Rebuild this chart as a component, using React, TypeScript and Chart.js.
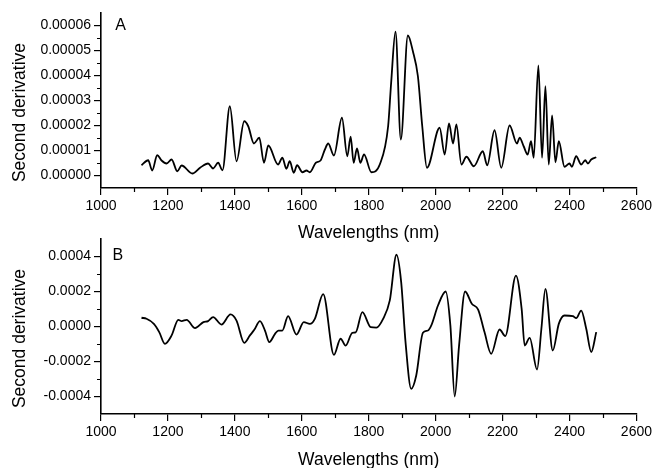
import React, { useEffect, useRef } from 'react';
import { Chart, registerables } from 'chart.js';

Chart.register(...registerables);

const FONT = '"Liberation Sans", Arial, Helvetica, sans-serif';

// Panel A: second derivative spectrum
const wavelengthsA = [
  1121, 1141, 1153, 1168, 1181, 1196, 1211, 1228, 1241, 1273, 1296, 1320, 1335, 1350, 1363,
  1385, 1405, 1428, 1440, 1457, 1473, 1487, 1500, 1529, 1542, 1554, 1564, 1576, 1586, 1602,
  1614, 1624, 1642, 1656, 1669, 1679, 1696, 1720, 1736, 1746, 1755, 1765, 1775, 1786, 1808,
  1833, 1858, 1867, 1880, 1896, 1917, 1932, 1947, 1960, 1974, 2012, 2027, 2040, 2052, 2062,
  2077, 2092, 2114, 2141, 2154, 2176, 2196, 2221, 2243, 2251, 2263, 2275, 2285, 2293, 2307,
  2318, 2328, 2338, 2348, 2358, 2368, 2385, 2400, 2407, 2420, 2435, 2447, 2455, 2465, 2480,
];
const valuesA = [
  0.41e-5, 0.61e-5, 0.2e-5, 0.81e-5, 0.6e-5, 0.48e-5, 0.64e-5, 0.17e-5, 0.4e-5, 0.08e-5, 0.31e-5, 0.48e-5, 0.28e-5, 0.51e-5, 0.21e-5,
  2.77e-5, 0.57e-5, 2.17e-5, 1.97e-5, 1.28e-5, 1.51e-5, 0.51e-5, 1.2e-5, 0.44e-5, 0.71e-5, 0.27e-5, 0.57e-5, 0.11e-5, 0.41e-5, 0.13e-5,
  0.2e-5, 0.13e-5, 0.51e-5, 0.6e-5, 1.04e-5, 1.28e-5, 0.8e-5, 2.31e-5, 0.77e-5, 1.55e-5, 0.51e-5, 1.08e-5, 0.51e-5, 0.84e-5, 0.13e-5,
  0.44e-5, 1.97e-5, 3.7e-5, 5.75e-5, 1.44e-5, 5.6e-5, 4.97e-5, 3.97e-5, 1.97e-5, 0.31e-5, 1.91e-5, 0.84e-5, 2.08e-5, 1.28e-5, 2.04e-5,
  0.44e-5, 0.75e-5, 0.37e-5, 0.97e-5, 0.41e-5, 1.81e-5, 0.31e-5, 2.0e-5, 1.28e-5, 1.51e-5, 1.17e-5, 0.84e-5, 1.37e-5, 0.71e-5, 4.4e-5,
  0.71e-5, 3.57e-5, 0.44e-5, 2.4e-5, 0.53e-5, 1.37e-5, 0.35e-5, 0.48e-5, 0.35e-5, 0.77e-5, 0.44e-5, 0.61e-5, 0.48e-5, 0.64e-5, 0.73e-5,
];

// Panel B
const wavelengthsB = [
  1121, 1136, 1158, 1174, 1191, 1211, 1231, 1241, 1256, 1281, 1306, 1320, 1335, 1360, 1387,
  1405, 1428, 1445, 1458, 1475, 1490, 1503, 1520, 1530, 1542, 1559, 1584, 1606, 1624, 1639,
  1664, 1696, 1716, 1731, 1751, 1761, 1781, 1806, 1823, 1843, 1863, 1883, 1897, 1910, 1927,
  1942, 1962, 1977, 1987, 2007, 2030, 2044, 2057, 2070, 2088, 2108, 2127, 2146, 2166, 2191,
  2208, 2240, 2257, 2266, 2281, 2303, 2316, 2328, 2350, 2368, 2385, 2410, 2420, 2435, 2450,
  2465, 2480,
];
const valuesB = [
  0.5e-4, 0.44e-4, 0.15e-4, -0.32e-4, -0.99e-4, -0.51e-4, 0.38e-4, 0.31e-4, 0.38e-4, -0.09e-4, 0.25e-4, 0.31e-4, 0.54e-4, 0.11e-4, 0.69e-4,
  0.34e-4, -0.93e-4, -0.51e-4, -0.19e-4, 0.31e-4, -0.23e-4, -0.89e-4, -0.42e-4, -0.23e-4, -0.23e-4, 0.59e-4, -0.46e-4, 0.25e-4, 0.15e-4, 0.44e-4,
  1.85e-4, -1.62e-4, -0.7e-4, -1.09e-4, -0.36e-4, -0.34e-4, 0.82e-4, -0.04e-4, -0.06e-4, 0.44e-4, 1.49e-4, 4.1e-4, 2.54e-4, -0.89e-4, -3.56e-4,
  -2.8e-4, -0.36e-4, -0.23e-4, 0.06e-4, 1.2e-4, 2.0e-4, 0.06e-4, -4.0e-4, -1.09e-4, 2.0e-4, 1.3e-4, 0.97e-4, -0.32e-4, -1.56e-4, -0.17e-4,
  -0.55e-4, 2.91e-4, 1.01e-4, -1.09e-4, -0.65e-4, -2.46e-4, -0.13e-4, 2.15e-4, -1.37e-4, 0.15e-4, 0.63e-4, 0.59e-4, 0.48e-4, 0.91e-4, -0.13e-4,
  -1.46e-4, -0.32e-4,
];

const xTicks = [1000, 1200, 1400, 1600, 1800, 2000, 2200, 2400, 2600];
const xMinorTicks = [1100, 1300, 1500, 1700, 1900, 2100, 2300, 2500];
const yTicksA = [0, 0.00001, 0.00002, 0.00003, 0.00004, 0.00005, 0.00006];
const yMinorTicksA = [0.000005, 0.000015, 0.000025, 0.000035, 0.000045, 0.000055];
const yTicksB = [-0.0004, -0.0002, 0, 0.0002, 0.0004];
const yMinorTicksB = [-0.0003, -0.0001, 0.0001, 0.0003];

const decorPlugin = {
  id: 'decor',
  afterDraw(chart: any, _args: any, opts: any) {
    const ctx = chart.ctx as CanvasRenderingContext2D;
    const xs = chart.scales.x;
    const ys = chart.scales.y;
    const area = chart.chartArea;
    ctx.save();
    ctx.strokeStyle = '#000';
    ctx.lineWidth = 1.2;
    ctx.beginPath();
    (opts.xMinor as number[]).forEach((v) => {
      const px = Math.round(xs.getPixelForValue(v)) + 0.5;
      ctx.moveTo(px, area.bottom);
      ctx.lineTo(px, area.bottom + 4);
    });
    (opts.yMinor as number[]).forEach((v) => {
      const py = Math.round(ys.getPixelForValue(v)) + 0.5;
      ctx.moveTo(area.left - 4, py);
      ctx.lineTo(area.left, py);
    });
    ctx.stroke();

    ctx.fillStyle = '#000';
    ctx.font = `16px ${FONT}`;
    ctx.textAlign = 'center';
    ctx.textBaseline = 'middle';
    ctx.fillText(opts.letter, area.left + opts.letterDx, area.top + opts.letterDy);

    ctx.font = `17.5px ${FONT}`;
    ctx.translate(20, area.top + area.height / 2 + 12);
    ctx.rotate(-Math.PI / 2);
    ctx.fillText('Second derivative', 0, 0);
    ctx.restore();
  },
};

function makeConfig(
  xs: number[],
  ys: number[],
  yMin: number,
  yMax: number,
  yTicks: number[],
  yMinor: number[],
  digits: number,
  padTop: number,
  xHeight: number,
  titlePadBottom: number,
  letter: string,
  letterDx: number,
  letterDy: number
): any {
  return {
    type: 'line',
    data: {
      datasets: [
        {
          data: xs.map((x, i) => ({ x, y: ys[i] })),
          borderColor: '#000',
          borderWidth: 1.8,
          pointRadius: 0,
          fill: false,
          cubicInterpolationMode: 'monotone',
        },
      ],
    },
    options: {
      animation: false,
      responsive: false,
      layout: { padding: { top: padTop, right: 18, left: 0, bottom: 0 } },
      plugins: {
        legend: { display: false },
        tooltip: { enabled: false },
        decor: { xMinor: xMinorTicks, yMinor, letter, letterDx, letterDy },
      },
      scales: {
        x: {
          type: 'linear',
          min: 1000,
          max: 2600,
          afterBuildTicks: (s: any) => {
            s.ticks = xTicks.map((v) => ({ value: v }));
          },
          afterFit: (s: any) => {
            s.height = xHeight;
          },
          grid: { drawOnChartArea: false, drawTicks: true, tickLength: 7, color: '#000', lineWidth: 1.2 },
          border: { display: true, color: '#000', width: 1.6 },
          ticks: {
            color: '#000',
            font: { family: FONT, size: 14 },
            padding: 3,
            maxRotation: 0,
            autoSkip: false,
            callback: (v: any) => String(v),
          },
          title: {
            display: true,
            text: 'Wavelengths (nm)',
            color: '#000',
            font: { family: FONT, size: 17.5 },
            padding: { top: 0, bottom: titlePadBottom },
          },
        },
        y: {
          type: 'linear',
          min: yMin,
          max: yMax,
          afterBuildTicks: (s: any) => {
            s.ticks = yTicks.map((v) => ({ value: v }));
          },
          afterFit: (s: any) => {
            s.width = 101;
          },
          grid: { drawOnChartArea: false, drawTicks: true, tickLength: 7, color: '#000', lineWidth: 1.2 },
          border: { display: true, color: '#000', width: 1.6 },
          ticks: {
            color: '#000',
            font: { family: FONT, size: 14 },
            padding: 3,
            autoSkip: false,
            callback: (v: any) => Number(v).toFixed(digits),
          },
          title: { display: false },
        },
      },
    },
    plugins: [decorPlugin],
  };
}

export default function App() {
  const refA = useRef<HTMLCanvasElement>(null);
  const refB = useRef<HTMLCanvasElement>(null);

  useEffect(() => {
    const a = new Chart(
      refA.current!,
      makeConfig(wavelengthsA, valuesA, -0.000005, 0.000065, yTicksA, yMinorTicksA, 5, 13, 57, 1.5, 'A', 19.5, 12.8)
    );
    const b = new Chart(
      refB.current!,
      makeConfig(wavelengthsB, valuesB, -0.0005, 0.0005, yTicksB, yMinorTicksB, 4, 14, 61, 4.5, 'B', 16.8, 16.7)
    );
    return () => {
      a.destroy();
      b.destroy();
    };
  }, []);

  return (
    <div
      style={{
        position: 'fixed',
        left: 0,
        top: 0,
        width: 655,
        height: 468,
        overflow: 'hidden',
        background: '#fff',
      }}
    >
      <canvas
        ref={refA}
        width={655}
        height={245}
        style={{ position: 'absolute', left: 0, top: 0, width: 655, height: 245 }}
      />
      <canvas
        ref={refB}
        width={655}
        height={250}
        style={{ position: 'absolute', left: 0, top: 225, width: 655, height: 250 }}
      />
    </div>
  );
}
